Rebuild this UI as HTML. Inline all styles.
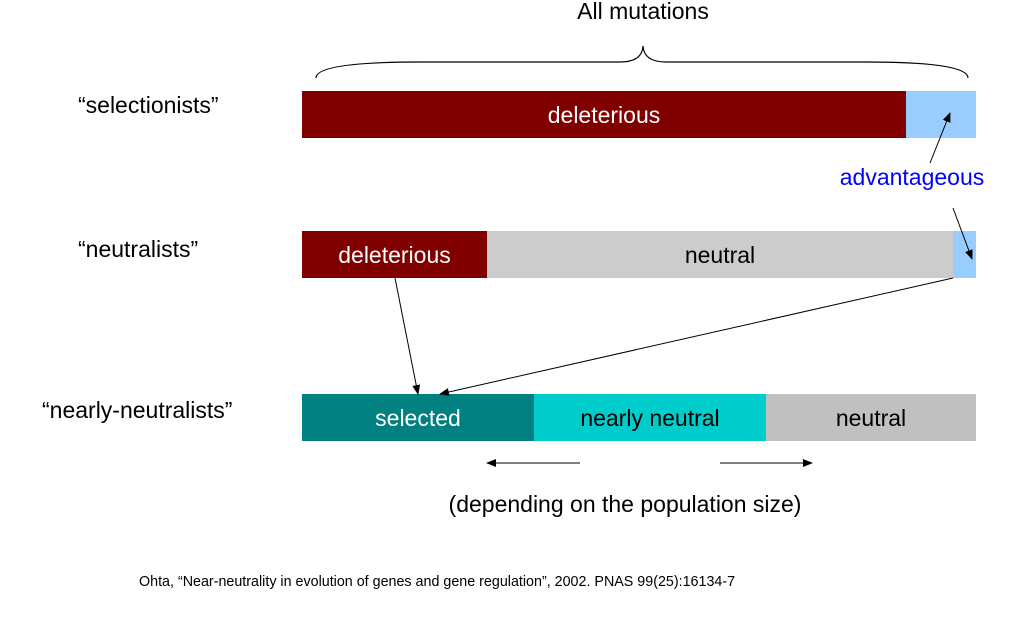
<!DOCTYPE html>
<html><head><meta charset="utf-8"><style>
body{margin:0;background:#fff;}
svg{display:block;font-family:"Liberation Sans",Arial,sans-serif;}
</style></head><body>
<svg width="1024" height="628" viewBox="0 0 1024 628">
<defs><marker id="ah" markerWidth="10" markerHeight="8" refX="9" refY="4" orient="auto" markerUnits="userSpaceOnUse"><path d="M0,0 L10,4 L0,8 z" fill="#000"/></marker></defs>
<text x="643" y="19" font-size="23" text-anchor="middle">All mutations</text>
<path d="M316,78 Q316,62 420,62 L620,62 Q642,62 643,46 Q644,62 666,62 L866,62 Q968,62 968,78" fill="none" stroke="#000" stroke-width="1.2"/>
<text x="78" y="113" font-size="23">“selectionists”</text>
<text x="78" y="257" font-size="23">“neutralists”</text>
<text x="42" y="418" font-size="23">“nearly-neutralists”</text>
<g id="bars"></g>
<text x="912" y="185" font-size="23" fill="#0000ff" text-anchor="middle">advantageous</text>
<line x1="930" y1="163" x2="950" y2="113" stroke="#000" marker-end="url(#ah)"/>
<line x1="953" y1="208" x2="972" y2="259" stroke="#000" marker-end="url(#ah)"/>
<line x1="395" y1="278" x2="418" y2="394" stroke="#000" marker-end="url(#ah)"/>
<line x1="953" y1="278" x2="440" y2="394" stroke="#000" marker-end="url(#ah)"/>
<line x1="580" y1="463" x2="487" y2="463" stroke="#000" marker-end="url(#ah)"/>
<line x1="720" y1="463" x2="812" y2="463" stroke="#000" marker-end="url(#ah)"/>
<text x="625" y="512" font-size="23" text-anchor="middle">(depending on the population size)</text>
<text x="139" y="586" font-size="14.3">Ohta, “Near-neutrality in evolution of genes and gene regulation”, 2002. PNAS 99(25):16134-7</text>
</svg>
<script>
const rowTops=[91,231,394];
const segStarts=[[302,906],[302,487,953],[302,534,766]];
const segEnds=[[906,976],[487,953,976],[534,766,976]];
const segLabels=[["deleterious",""],["deleterious","neutral",""],["selected","nearly neutral","neutral"]];
const segColors=[["#800000","#99ccff"],["#800000","#cccccc","#99ccff"],["#008080","#00cccc","#c0c0c0"]];
const segText=[["#fff",""],["#fff","#000",""],["#fff","#000","#000"]];
const g=document.getElementById('bars');const NS='http://www.w3.org/2000/svg';
rowTops.forEach((y,r)=>{segStarts[r].forEach((x0,i)=>{
 const x1=segEnds[r][i];
 const rect=document.createElementNS(NS,'rect');
 rect.setAttribute('x',x0);rect.setAttribute('y',y);rect.setAttribute('width',x1-x0);rect.setAttribute('height',47);rect.setAttribute('fill',segColors[r][i]);
 
 
 g.appendChild(rect);
 if(segLabels[r][i]){const t=document.createElementNS(NS,'text');
  t.setAttribute('x',(x0+x1)/2);t.setAttribute('y',y+32);t.setAttribute('font-size','23');t.setAttribute('text-anchor','middle');t.setAttribute('fill',segText[r][i]);
  t.textContent=segLabels[r][i];
  
  
  g.appendChild(t);}
});});
</script>
</body></html>
